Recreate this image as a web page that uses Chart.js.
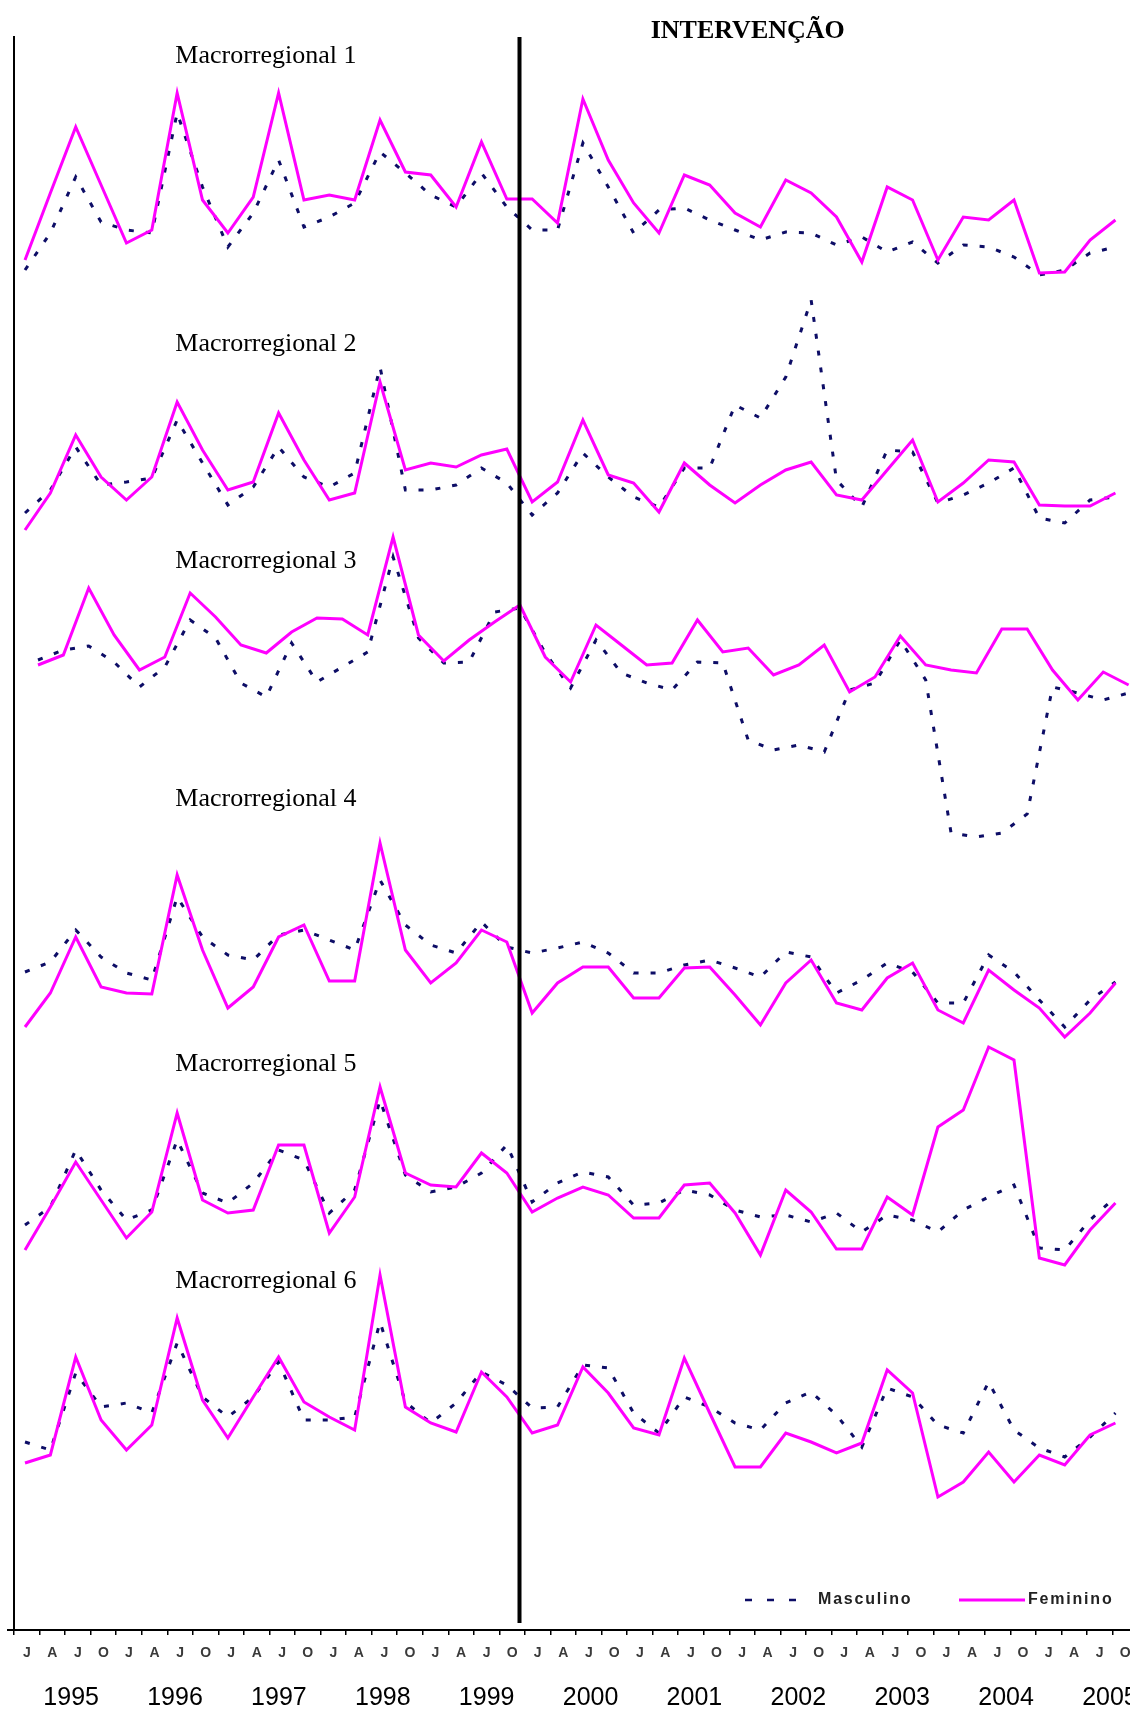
<!DOCTYPE html>
<html lang="pt">
<head>
<meta charset="utf-8">
<title>Macrorregionais 1995–2005</title>
<script src="https://cdn.jsdelivr.net/npm/chart.js@4.4.1/dist/chart.umd.min.js"></script>
<style>
  html, body { margin: 0; padding: 0; background: #fff; overflow: hidden; }
  #wrap { width: 1140px; height: 1713px; }
</style>
</head>
<body>
<div id="wrap"><canvas id="chart" width="1140" height="1713"></canvas></div>
<script>
// ==== dados (escala arbitrária por painel) ====
const YEARS = ["1995","1996","1997","1998","1999","2000","2001","2002","2003","2004","2005"];
const QUARTERS = ["J","A","J","O"];
const quarterLabels = YEARS.flatMap(() => QUARTERS);

const REGIONS = ["Macrorregional 1","Macrorregional 2","Macrorregional 3",
                 "Macrorregional 4","Macrorregional 5","Macrorregional 6"];

const masc1 = [15,33.5,61.5,39,35,33.5,93.5,56.5,26.5,43.5,70,36.5,41.5,48.5,74,63.5,52.5,46.5,63.5,46.5,35,35,78.5,56.5,33.5,45,46,40,35,30,34,33.5,27.5,31.5,24,29,18.5,27.5,26.5,21.5,12.5,15,23.5,26.5];
const fem1  = [20,53.5,86.5,57.5,28.5,35,103.5,50,33.5,51.5,103.5,50,52.5,50,90,64,62.5,46.5,79,50.5,50.5,38.5,100.5,70,48.5,33.5,62.5,57.5,43.5,36.5,60,53.5,41.5,19,56.5,50,20,41.5,40,50,13.5,14,30,40];

const masc2 = [13.5,25,46.5,27.5,29,31,60,38.5,17.5,26.5,46.5,31.5,26.5,33.5,86.5,25,25,27.5,36,28.5,12.5,23.5,43.5,31.5,21.5,16.5,36,36,67.5,61,81.5,120,30,16.5,45,44,18.5,22.5,28.5,36,11,8.5,20,21.5];
const fem2  = [5,23.5,52.5,31.5,20,31.5,69,45,25,29,63.5,40,20,23.5,79,35,38.5,36.5,42.5,45.5,19,29,60,32.5,28.5,14,38.5,27.5,18.5,27.5,35,39,22.5,20,35,50,19,28.5,40,39,17.5,17,17,23.5];

const masc3 = [95,100,102,94,81.5,91.5,115,106,83.5,76.5,103.5,84,91.5,99,146.5,106,93.5,94,119,121,98.5,81,105,88.5,83.5,80,94,93.5,55,50,52.5,49,80,83.5,105,85,8.5,6.5,8.5,18,81.5,78.5,75,78.5];
const fem3  = [92.5,97.5,131,107.5,90,96.5,128.5,116.5,102.5,98.5,109,116,115.5,107.5,156.5,107.5,94.5,105,114,122.5,96.5,84,112.5,102.5,92.5,93.5,115,99,101,87.5,92.5,102.5,79,86.5,107,92.5,90,88.5,110.5,110.5,90,75,89,82.5];

const masc4 = [39,44,60,46.5,38.5,35,76.5,56.5,47.5,45,57.5,60,55,50,85,62.5,52.5,48.5,64,51.5,48.5,51,54,48.5,38.5,38.5,42.5,45,41,36.5,49,46.5,28.5,35,43.5,39,23.5,23.5,47.5,39,25,11.5,25,34];
const fem4  = [11.5,28.5,56.5,31.5,28.5,28,87.5,50,21,31.5,56.5,62.5,34.5,34.5,103.5,50,33.5,43.5,60,54,18.5,33.5,41.5,41.5,26,26,41,41.5,27.5,12.5,33.5,45,23.5,20,36,43.5,20,13.5,40,30,21,6.5,18.5,33.5];

const masc5 = [27.5,36.5,65,45,30,35,70,43.5,38.5,48.5,65,60,33.5,45,90,52.5,44,46.5,53.5,67.5,39,48.5,54,51.5,37.5,38.5,45,42.5,35,31.5,32.5,29,33.5,24,32.5,30,24,35,41.5,47.5,16,15,30,41.5];
const fem5  = [15,36.5,59,40,21,34,83.5,40,33.5,35,67.5,67.5,23.5,41.5,96.5,53.5,47.5,46.5,63.5,53.5,34,41,46.5,42.5,31,31,47.5,48.5,33.5,12.5,45,34,15.5,15.5,41.5,32.5,76.5,85,116.5,110,11,7.5,25,38.5];

const masc6 = [34,30,68.5,51.5,53.5,48.5,83.5,56.5,46.5,56.5,74,45,45,46.5,94,54,43.5,53.5,69,62.5,51,51.5,72.5,71,48.5,38.5,56.5,51.5,43.5,40,53.5,59,47.5,31.5,61,56.5,42.5,38.5,64,40,31,26.5,36.5,48.5];
const fem6  = [23.5,27.5,76.5,45,30,42.5,96,55,36,56.5,76.5,54,46.5,40,117.5,51.5,43.5,39,69,56.5,38.5,42.5,71.5,58.5,41,37.5,76,48.5,21.5,21.5,38.5,34,28.5,33.5,70,58.5,6.5,14,29,14,27.5,22.5,37.5,43.5];

const MASC = [masc1, masc2, masc3, masc4, masc5, masc6];
const FEM  = [fem1, fem2, fem3, fem4, fem5, fem6];

// ==== layout ====
const PLOT_TOP = 37, PLOT_BOTTOM = 1630;       // área do gráfico (px)
const PANEL_BASE = [300, 540, 850, 1050, 1280, 1510]; // px onde fica o valor 0 de cada painel
const PX_PER_UNIT = 2;
const LABEL_LEVEL = [118.5, 94.5, 141, 122, 104.5, 111]; // nível do rótulo em cada painel
const INTERVENTION_AT = 19.5;                   // entre O/1999 e J/2000
const MASC_COLOR = "#0d0d66";
const FEM_COLOR = "#ff00ff";

function panelAxis(p) {
  return {
    type: "linear", display: false,
    min: (PANEL_BASE[p] - PLOT_BOTTOM) / PX_PER_UNIT,
    max: (PANEL_BASE[p] - PLOT_TOP) / PX_PER_UNIT
  };
}

function toPoints(arr) { return arr.map((v, i) => ({ x: i, y: v })); }

const datasets = [];
REGIONS.forEach((name, p) => {
  const xAxis = p === 2 ? "xd3" : "xd";   // painel 3 vem um pouco deslocado no original
  datasets.push({
    label: "Masculino " + (p + 1), data: toPoints(MASC[p]),
    xAxisID: xAxis, yAxisID: "y" + (p + 1),
    borderColor: MASC_COLOR, borderWidth: 3, borderDash: [5, 12],
    pointRadius: 0, tension: 0, fill: false, order: 2
  });
  datasets.push({
    label: "Feminino " + (p + 1), data: toPoints(FEM[p]),
    xAxisID: xAxis, yAxisID: "y" + (p + 1),
    borderColor: FEM_COLOR, borderWidth: 3,
    pointRadius: 0, tension: 0, fill: false, order: 1
  });
});

const scales = {
  x: {
    type: "linear", position: "bottom", weight: 0,
    min: -0.5, max: 43.5,
    afterBuildTicks: axis => { axis.ticks = quarterLabels.map((_, i) => ({ value: i })); },
    afterFit: s => { s.height = 30; s.paddingLeft = 0; s.paddingRight = 0; },
    ticks: {
      autoSkip: false, maxRotation: 0, minRotation: 0, padding: 10,
      color: "#3a3a3a",
      font: { family: "'Liberation Sans', Arial, sans-serif", size: 14, weight: "bold" },
      callback: (v, i) => quarterLabels[i]
    },
    grid: { display: true, drawOnChartArea: false, drawTicks: true, tickLength: 5,
            offset: true, color: "#000", lineWidth: 1.5 },
    border: { display: true, color: "#000", width: 2 }
  },
  xYear: {
    type: "linear", position: "bottom", weight: 1,
    min: -0.55, max: 10.27,
    afterBuildTicks: axis => { axis.ticks = YEARS.map((_, k) => ({ value: k })); },
    afterFit: s => { s.height = 53; s.paddingLeft = 0; s.paddingRight = 0; },
    ticks: {
      autoSkip: false, maxRotation: 0, minRotation: 0, padding: 23,
      color: "#000",
      font: { family: "'Liberation Sans', Arial, sans-serif", size: 25 },
      callback: (v, i) => YEARS[i]
    },
    grid: { display: false, drawTicks: false },
    border: { display: false }
  },
  xd:  { type: "linear", display: false, min: -0.434, max: 43.89 },
  xd3: { type: "linear", display: false, min: -0.946, max: 43.37 }
};
REGIONS.forEach((_, p) => { scales["y" + (p + 1)] = panelAxis(p); });
// só o primeiro eixo y aparece (linha da esquerda)
Object.assign(scales.y1, {
  display: true, position: "left",
  ticks: { display: false },
  grid: { display: false, drawTicks: false },
  border: { display: true, color: "#000", width: 2 }
});

/* textos, linha de intervenção e legenda */
const decor = {
  id: "decor",
  afterDatasetsDraw(chart) {
    const { ctx, chartArea, scales: sc } = chart;
    const xd = sc.xd;
    ctx.save();

    const xi = xd.getPixelForValue(INTERVENTION_AT);
    ctx.strokeStyle = "#000";
    ctx.lineWidth = 4;
    ctx.beginPath();
    ctx.moveTo(xi, chartArea.top);
    ctx.lineTo(xi, chartArea.bottom - 7);
    ctx.stroke();

    // pedacinho do eixo x que passa à esquerda do eixo y
    ctx.lineWidth = 2;
    ctx.beginPath();
    ctx.moveTo(chartArea.left - 7, chartArea.bottom);
    ctx.lineTo(chartArea.left, chartArea.bottom);
    ctx.stroke();

    ctx.fillStyle = "#000";
    ctx.textAlign = "center";
    ctx.textBaseline = "alphabetic";
    ctx.font = "bold 26px 'Liberation Serif', 'Times New Roman', serif";
    ctx.fillText("INTERVENÇÃO", xd.getPixelForValue(28.5), 38);

    ctx.font = "26px 'Liberation Serif', 'Times New Roman', serif";
    REGIONS.forEach((name, p) => {
      const y = sc["y" + (p + 1)].getPixelForValue(LABEL_LEVEL[p]);
      ctx.fillText(name, xd.getPixelForValue(9.5), y);
    });

    // legenda
    const ly = chartArea.bottom - 30;
    ctx.strokeStyle = MASC_COLOR;
    ctx.lineWidth = 2.5;
    ctx.setLineDash([7, 15]);
    ctx.beginPath(); ctx.moveTo(745, ly); ctx.lineTo(797, ly); ctx.stroke();
    ctx.setLineDash([]);
    ctx.strokeStyle = FEM_COLOR;
    ctx.lineWidth = 3;
    ctx.beginPath(); ctx.moveTo(959, ly); ctx.lineTo(1025, ly); ctx.stroke();

    ctx.fillStyle = "#222";
    ctx.textAlign = "left";
    ctx.textBaseline = "middle";
    ctx.font = "bold 16px 'Liberation Sans', Arial, sans-serif";
    ctx.letterSpacing = "1.8px";
    ctx.fillText("Masculino", 818, ly);
    ctx.fillText("Feminino", 1028, ly);
    ctx.restore();
  }
};

new Chart(document.getElementById("chart").getContext("2d"), {
  type: "line",
  data: { datasets },
  options: {
    responsive: false,
    animation: false,
    events: [],
    layout: { padding: { top: PLOT_TOP, left: 14, right: 2, bottom: 0 } },
    scales,
    plugins: { legend: { display: false }, tooltip: { enabled: false } }
  },
  plugins: [decor]
});
</script>
</body>
</html>
